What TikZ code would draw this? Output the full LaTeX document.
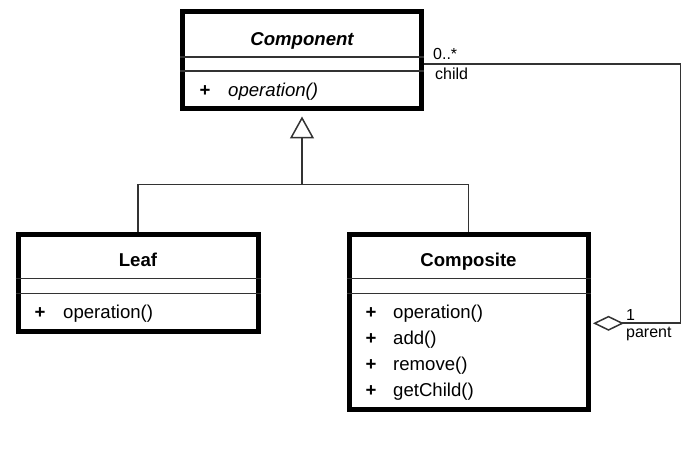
\documentclass[tikz,border=0pt]{standalone}
\usepackage{fontspec}
\setmainfont{Liberation Sans}
\usetikzlibrary{arrows.meta}
\tikzset{
  classbox/.style={draw=black, line width=5pt, minimum width=239pt, inner sep=0pt, fill=white},
  sepline/.style={draw=black!80, line width=1.5pt},
  conn/.style={draw=black!80, line width=1.7pt},
  title/.style={anchor=base, inner sep=0pt, font=\fontsize{18.6}{22}\selectfont\bfseries},
  vis/.style={anchor=base, inner sep=0pt, font=\fontsize{18.6}{22}\selectfont\bfseries},
  meth/.style={anchor=base west, inner sep=0pt, font=\fontsize{18.6}{22}\selectfont},
  mult/.style={anchor=base west, inner sep=0pt, font=\fontsize{16}{19}\selectfont},
}
\begin{document}
\begin{tikzpicture}[x=1pt,y=-1pt]
\useasboundingbox (0,0) rectangle (689,452);
% boxes
\node[classbox, minimum height=97pt] (comp) at (302,60.5) {};
\node[classbox, minimum height=97pt, minimum width=240pt] (leaf) at (138,282.5) {};
\node[classbox, minimum height=175pt] (compo) at (468.5,321.5) {};
% separators
\draw[sepline] (comp.west |- 0,57) -- (comp.east |- 0,57);
\draw[sepline] (comp.west |- 0,71) -- (comp.east |- 0,71);
\draw[sepline] (leaf.west |- 0,278.5) -- (leaf.east |- 0,278.5);
\draw[sepline] (leaf.west |- 0,293.5) -- (leaf.east |- 0,293.5);
\draw[sepline] (compo.west |- 0,278.5) -- (compo.east |- 0,278.5);
\draw[sepline] (compo.west |- 0,293.5) -- (compo.east |- 0,293.5);
% titles
\node[title] (tcomp) at (302,46) {\itshape Component};
\node[title] (tleaf) at (138,266.5) {Leaf};
\node[title] (tcompo) at (468.5,266.5) {Composite};
% methods
\node[vis] (p0) at (205,96.8) {+};
\node[meth] (m0) at (228,96.8) {\itshape operation()};
\node[vis] (p1) at (40,318.8) {+};
\node[meth] (m1) at (63,318.8) {operation()};
\node[vis] (p2) at (371,318.8) {+};
\node[meth] (m2) at (393,318.8) {operation()};
\node[vis] (p3) at (371,344.6) {+};
\node[meth] (m3) at (393,344.6) {add()};
\node[vis] (p4) at (371,370.4) {+};
\node[meth] (m4) at (393,370.4) {remove()};
\node[vis] (p5) at (371,396) {+};
\node[meth] (m5) at (393,396) {getChild()};
% generalisation
\coordinate (j) at (302,184.5);
\draw[conn] (leaf.north) |- (j) -| (compo.north);
\draw[conn, -{Triangle[open, length=22pt, width=24pt, line width=1.5pt]}, shorten >=5pt] (j) -- (comp.south);
% aggregation
\coordinate (cstart) at (comp.east |- 0,64);
\coordinate (dstart) at (compo.east |- 0,323.3);
\draw[conn, {Diamond[open, length=31pt, width=15pt, line width=1.5pt]}-, shorten <=2.5pt] (dstart) -- ++(90,0) |- (cstart);
% multiplicities
\node[mult] (l1) at (433,60) {0..*};
\node[mult] (l2) at (435,79.3) {child};
\node[mult] (l3) at (626,320) {1};
\node[mult] (l4) at (626,337.7) {parent};
\end{tikzpicture}
\end{document}
